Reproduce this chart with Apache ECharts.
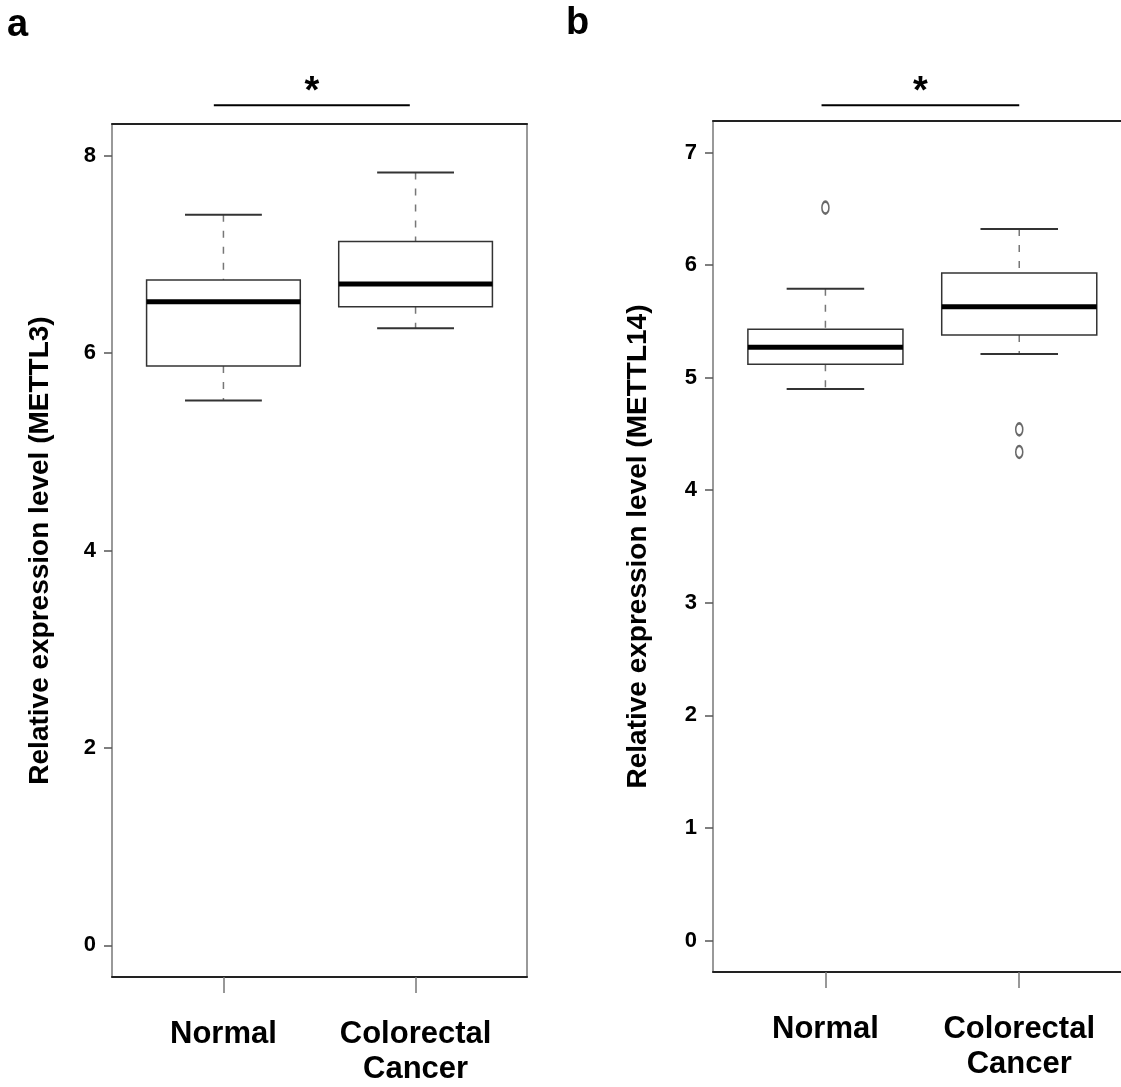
<!DOCTYPE html>
<html>
<head>
<meta charset="utf-8">
<script src="https://cdn.jsdelivr.net/npm/echarts@6/dist/echarts.min.js"></script>
<style>
    html, body { margin: 0; padding: 0; background: #fff; }
    #chart { width: 1121px; height: 1087px; }
</style>
</head>
<body>
<div id="chart"></div>
<script>
const groups = ["Normal", "Colorectal\nCancer"];
const groupPos = [1, 2];

// [lower whisker, Q1, median, Q3, upper whisker]
const mettl3Stats = [
    [5.52, 5.87, 6.52, 6.74, 7.40],
    [6.25, 6.47, 6.70, 7.13, 7.83],
];
const mettl14Stats = [
    [4.90, 5.12, 5.27, 5.43, 5.79],
    [5.21, 5.38, 5.63, 5.93, 6.32],
];
const mettl14Outliers = [[1, 6.51], [2, 4.54], [2, 4.34]];

const mettl3Ticks = [0, 2, 4, 6, 8];
const mettl14Ticks = [0, 1, 2, 3, 4, 5, 6, 7];
const mettl3Range = [-0.32, 8.32];
const mettl14Range = [-0.28, 7.28];
// panel b is cut off on the right edge of the figure
const xRangeA = [0.42, 2.58];
const xRangeB = [0.42, 2.525];

// significance bars: [x start, x end, y]
const sigA = [0.95, 1.97, 8.51];
const sigB = [0.98, 2.0, 7.42];

const FONT = "Liberation Sans, Arial, sans-serif";

function renderBox(params, api) {
    const x = api.value(0);
    const lo = api.coord([x, api.value(1)]);
    const q1 = api.coord([x, api.value(2)]);
    const md = api.coord([x, api.value(3)]);
    const q3 = api.coord([x, api.value(4)]);
    const hi = api.coord([x, api.value(5)]);
    const w = api.size([0.8, 0])[0];
    const cx = md[0];
    const dash = { stroke: "#777", lineWidth: 1.5, lineDash: [7, 9] };
    const solid = { stroke: "#333", lineWidth: 2 };
    return {
        type: "group",
        children: [
            { type: "line", shape: { x1: cx, y1: hi[1], x2: cx, y2: q3[1] }, style: dash },
            { type: "line", shape: { x1: cx, y1: q1[1], x2: cx, y2: lo[1] }, style: dash },
            { type: "line", shape: { x1: cx - w / 4, y1: hi[1], x2: cx + w / 4, y2: hi[1] }, style: solid },
            { type: "line", shape: { x1: cx - w / 4, y1: lo[1], x2: cx + w / 4, y2: lo[1] }, style: solid },
            { type: "rect", shape: { x: cx - w / 2, y: q3[1], width: w, height: q1[1] - q3[1] },
              style: { fill: "#fff", stroke: "#333", lineWidth: 1.5 } },
            { type: "line", shape: { x1: cx - w / 2, y1: md[1], x2: cx + w / 2, y2: md[1] },
              style: { stroke: "#000", lineWidth: 5 } },
        ],
    };
}

function renderSig(params, api) {
    const a = api.coord([api.value(0), api.value(2)]);
    const b = api.coord([api.value(1), api.value(2)]);
    return {
        type: "group",
        children: [
            { type: "line", shape: { x1: a[0], y1: a[1], x2: b[0], y2: b[1] },
              style: { stroke: "#000", lineWidth: 2 } },
            { type: "text", x: (a[0] + b[0]) / 2, y: a[1] + 6,
              style: { text: "*", fill: "#000", font: "bold 38px " + FONT, align: "center", verticalAlign: "bottom" } },
        ],
    };
}

function panelAxes(idx, xRange, range, ticks, name, nameGap, rightBorder) {
    const x = [
        {
            gridIndex: idx, type: "value", position: "bottom", min: xRange[0], max: xRange[1],
            axisLine: { onZero: false, lineStyle: { color: "#222", width: 2 } },
            axisTick: { customValues: groupPos, length: 16, lineStyle: { color: "#777", width: 1.5 } },
            axisLabel: {
                customValues: groupPos, margin: 40,
                formatter: (v) => groups[Math.round(v) - 1],
                color: "#000", fontFamily: FONT, fontWeight: "bold", fontSize: 31, lineHeight: 35,
            },
            splitLine: { show: false },
        },
        {
            gridIndex: idx, type: "value", position: "top", min: xRange[0], max: xRange[1],
            axisLine: { onZero: false, lineStyle: { color: "#222", width: 2 } },
            axisTick: { show: false }, axisLabel: { show: false }, splitLine: { show: false },
        },
    ];
    const y = [
        {
            gridIndex: idx, type: "value", position: "left", min: range[0], max: range[1],
            name: name, nameLocation: "middle", nameRotate: 90, nameGap: nameGap,
            nameTextStyle: { color: "#000", fontFamily: FONT, fontWeight: "bold", fontSize: 28 },
            axisLine: { show: true, onZero: false, lineStyle: { color: "#777", width: 1.5 } },
            axisTick: { show: true, customValues: ticks, length: 8, lineStyle: { color: "#555", width: 1.5 } },
            axisLabel: {
                customValues: ticks, margin: 16,
                color: "#000", fontFamily: FONT, fontWeight: "bold", fontSize: 22,
            },
            splitLine: { show: false },
        },
        {
            gridIndex: idx, type: "value", position: "right", min: range[0], max: range[1],
            axisLine: { show: rightBorder, onZero: false, lineStyle: { color: "#777", width: 1.5 } },
            axisTick: { show: false }, axisLabel: { show: false }, splitLine: { show: false },
        },
    ];
    return { x, y };
}

const axA = panelAxes(0, xRangeA, mettl3Range, mettl3Ticks, "Relative expression level (METTL3)", 58, true);
const axB = panelAxes(1, xRangeB, mettl14Range, mettl14Ticks, "Relative expression level (METTL14)", 61, false);

const boxData = (stats) => stats.map((s, i) => [groupPos[i], ...s]);

const chart = echarts.init(document.getElementById("chart"));
chart.setOption({
    animation: false,
    backgroundColor: "#fff",
    textStyle: { fontFamily: FONT },
    title: [
        { text: "a", left: 2, top: 2, textStyle: { fontSize: 38, fontWeight: "bold", color: "#000", fontFamily: FONT } },
        { text: "b", left: 561, top: 0, textStyle: { fontSize: 38, fontWeight: "bold", color: "#000", fontFamily: FONT } },
    ],
    grid: [
        { left: 112, top: 124, width: 415, height: 853 },
        { left: 713, top: 121, right: 0, height: 851 },
    ],
    xAxis: [...axA.x, ...axB.x],
    yAxis: [...axA.y, ...axB.y],
    series: [
        { type: "custom", xAxisIndex: 0, yAxisIndex: 0, renderItem: renderBox,
          encode: { x: 0, y: [1, 2, 3, 4, 5] }, data: boxData(mettl3Stats) },
        { type: "custom", xAxisIndex: 2, yAxisIndex: 2, renderItem: renderBox,
          encode: { x: 0, y: [1, 2, 3, 4, 5] }, data: boxData(mettl14Stats) },
        { type: "scatter", xAxisIndex: 2, yAxisIndex: 2, data: mettl14Outliers,
          symbol: "emptyCircle", symbolSize: [7, 12], itemStyle: { color: "#444", borderWidth: 1.4 } },
        { type: "custom", xAxisIndex: 0, yAxisIndex: 0, renderItem: renderSig, clip: false,
          encode: { x: [0, 1], y: 2 }, data: [sigA] },
        { type: "custom", xAxisIndex: 2, yAxisIndex: 2, renderItem: renderSig, clip: false,
          encode: { x: [0, 1], y: 2 }, data: [sigB] },
    ],
});
</script>
</body>
</html>
